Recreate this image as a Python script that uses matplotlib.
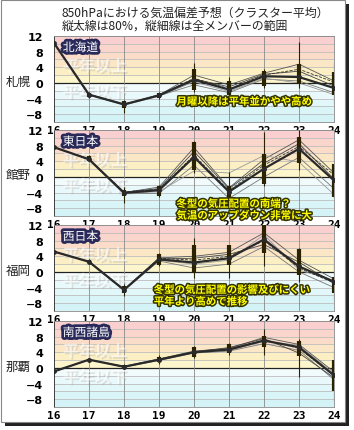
import matplotlib
matplotlib.use("Agg")
import matplotlib.pyplot as plt
import matplotlib.patheffects as pe
from matplotlib.patches import Rectangle
import numpy as np

plt.rcParams['font.family'] = ['Noto Sans CJK JP', 'DejaVu Sans']

days = [16, 17, 18, 19, 20, 21, 22, 23, 24]
nan = np.nan

stations = ["札幌", "館野", "福岡", "那覇"]
regions = ["北海道", "東日本", "西日本", "南西諸島"]

# cluster mean (thick line)
mean_sapporo = [10.2, -3.0, -5.5, -3.2, 0.8, -1.7, 1.7, 1.5, -1.3]
mean_tateno = [7.6, 4.5, -4.1, -3.4, 5.1, -3.8, 2.1, 7.2, -0.9]
mean_fukuoka = [5.2, 2.6, -4.6, 3.2, 2.4, 3.5, 8.3, 1.4, -2.5]
mean_naha = [-0.9, 2.1, 0.3, 2.1, 4.0, 4.7, 7.0, 5.3, -1.9]

# other clusters (thin lines)
members_sapporo = [
    [10.2, -3.0, -5.6, -3.1, 2.0, -0.5, 2.5, 4.8, 0.5],
    [10.2, -2.9, -5.4, -3.3, -0.5, -2.5, 1.0, 0.5, -2.5],
    [10.2, -3.1, -5.5, -3.0, 1.0, -1.0, 2.2, 3.0, -0.8],
    [10.2, -3.0, -5.7, -3.4, 0.3, -2.2, 1.2, 0.0, -3.0],
    [10.2, -3.0, -5.5, -3.2, 1.2, -1.5, 2.0, 3.5, 0.2],
]
members_tateno = [
    [7.6, 4.6, -4.0, -2.6, 7.5, -2.8, 4.5, 9.5, 1.0],
    [7.6, 4.4, -4.3, -4.2, 3.0, -5.5, 0.0, 5.0, -3.0],
    [7.6, 4.5, -3.9, -3.0, 6.5, -3.0, 3.5, 8.5, -0.5],
    [7.6, 4.5, -4.2, -3.8, 1.5, 1.0, 5.5, 3.8, -4.5],
    [7.6, 4.5, -3.8, -3.2, 5.5, -3.5, 3.0, 7.8, 0.5],
]
members_fukuoka = [
    [5.2, 2.6, -4.5, 3.6, 4.0, 5.0, 10.0, 3.0, -1.8],
    [5.2, 2.6, -4.7, 2.8, 1.0, 2.0, 6.5, 0.0, -4.0],
    [5.2, 2.6, -4.6, 3.3, 3.5, 4.5, 7.0, 2.5, -3.0],
    [5.2, 2.6, -4.6, 3.0, 2.0, 3.0, 9.5, 0.5, -2.2],
    [5.2, 2.6, -4.6, 3.5, 3.0, 4.0, 8.0, 1.0, -2.8],
]
members_naha = [
    [-0.9, 2.1, 0.4, 2.3, 4.3, 5.0, 7.8, 6.0, -1.0],
    [-0.9, 2.1, 0.2, 1.9, 3.8, 4.3, 6.2, 4.5, -3.0],
    [-0.9, 2.1, 0.3, 2.2, 4.1, 5.2, 7.5, 3.8, -2.5],
    [-0.9, 2.1, 0.3, 2.0, 3.9, 4.5, 6.8, 5.8, -1.5],
    [-0.9, 2.1, 0.3, 2.1, 4.0, 4.8, 7.2, 5.0, -2.0],
]

# 80% range (thick bar) and full range (thin bar)
p80_lo_sapporo = [nan, -3.5, -6.3, -3.8, -1.7, -3.0, -0.9, -0.4, -3.2]
p80_hi_sapporo = [nan, -2.6, -4.6, -2.6, 3.6, 0.4, 3.0, 4.9, 2.7]
min_sapporo = [nan, -3.8, -7.7, -4.0, -2.4, -3.8, -1.3, -1.3, -5.5]
max_sapporo = [nan, -2.4, -4.3, -2.4, 5.1, 1.5, 3.6, 10.4, 5.1]

p80_lo_tateno = [nan, 4.0, -5.0, -4.9, 1.7, -6.1, -1.9, 3.6, -5.1]
p80_hi_tateno = [nan, 5.3, -3.4, -2.3, 8.9, -2.4, 5.8, 10.2, 3.2]
min_tateno = [nan, 3.8, -6.8, -5.2, 0.9, -6.8, -2.4, 1.7, -5.5]
max_tateno = [nan, 5.5, -2.6, -2.0, 9.2, 1.3, 11.5, 12.0, 7.5]

p80_lo_fukuoka = [nan, 2.2, -5.4, 1.8, -0.3, 1.8, 4.8, -0.8, -5.4]
p80_hi_fukuoka = [nan, 3.0, -3.5, 4.5, 6.9, 6.9, 12.0, 5.8, -1.2]
min_fukuoka = [nan, 2.0, -6.2, 1.5, -1.5, -1.5, 1.4, -2.5, -7.1]
max_fukuoka = [nan, 3.2, -3.2, 4.8, 8.6, 7.0, 13.0, 6.0, 3.9]

p80_lo_naha = [nan, 1.8, 0.0, 1.6, 2.7, 3.7, 5.3, 3.1, -5.9]
p80_hi_naha = [nan, 2.4, 0.7, 2.8, 5.3, 6.1, 8.2, 7.0, 1.9]
min_naha = [nan, 1.6, -0.3, 1.0, 2.5, 3.4, 3.4, -2.2, -8.5]
max_naha = [nan, 2.6, 1.0, 3.2, 5.6, 6.3, 9.9, 7.4, 4.6]

notes = [
    ["月曜以降は平年並かやや高め"],
    ["冬型の気圧配置の南端？", "気温のアップダウン非常に大"],
    ["冬型の気圧配置の影響及びにくい", "平年より高めで推移"],
    [],
]
note_pos = [(19.5, -4.8), (19.5, -6.9), (18.85, -4.6), None]

ytick_vals = [12, 8, 4, 0, -4, -8]
band_edges = [-10, -8, -6, -4, -2, 0, 2, 4, 6, 8, 10, 12]
band_colors = ["#d3f3f7", "#d9f5f8", "#e1f7fa", "#e9f9fb", "#f1fbfb",
               "#fdf6cd", "#fcefc3", "#fbe6c6", "#fbdcc9", "#fad5cc", "#f9d0cf"]

panels = [
    (mean_sapporo, members_sapporo, p80_lo_sapporo, p80_hi_sapporo, min_sapporo, max_sapporo),
    (mean_tateno, members_tateno, p80_lo_tateno, p80_hi_tateno, min_tateno, max_tateno),
    (mean_fukuoka, members_fukuoka, p80_lo_fukuoka, p80_hi_fukuoka, min_fukuoka, max_fukuoka),
    (mean_naha, members_naha, p80_lo_naha, p80_hi_naha, min_naha, max_naha),
]

W, H = 354, 431
fig = plt.figure(figsize=(W / 100, H / 100), dpi=100)

# outer frame with shadow
fig.patches.append(Rectangle((5 / W, 1 - 427 / H), 344 / W, 422 / H, transform=fig.transFigure,
                             facecolor="#222222", edgecolor="none", zorder=-3))
fig.patches.append(Rectangle((1 / W, 1 - 423 / H), 344 / W, 422 / H, transform=fig.transFigure,
                             facecolor="white", edgecolor="#888888", linewidth=0.8, zorder=-2))

fig.text(62 / W, 1 - 13 / H, "850hPaにおける気温偏差予想（クラスター平均）",
         fontsize=8.6, va="center", ha="left", color="#222222")
fig.text(62 / W, 1 - 26 / H, "縦太線は80%，縦細線は全メンバーの範囲",
         fontsize=8.6, va="center", ha="left", color="#222222")

tops = [37, 131, 226, 322]
ph = 86
x0, x1 = 54, 334
member_styles = [("#555555", "-"), ("#777777", "-"), ("#444444", "-"), ("#999999", "-"), ("#333333", "--")]

for i, (mean, members, lo80, hi80, vmin, vmax) in enumerate(panels):
    top = tops[i]
    ax = fig.add_axes([x0 / W, 1 - (top + ph) / H, (x1 - x0) / W, ph / H])
    ax.set_xlim(16, 24)
    ax.set_ylim(-10, 12)
    for k in range(len(band_colors)):
        ax.axhspan(band_edges[k], band_edges[k + 1], color=band_colors[k], lw=0, zorder=0)
    for y in range(-10, 13, 2):
        if y != 0:
            ax.axhline(y, color="#bdbdbd", lw=0.6, zorder=1)
    ax.axhline(0, color="#222222", lw=0.9, zorder=1)
    for d in days:
        ax.axvline(d, color="#8a8a8a", lw=0.6, zorder=1)

    # watermark
    wm_fx = [pe.SimplePatchShadow(offset=(1.2, -1.2), shadow_rgbFace="#a8a8a8", alpha=0.3),
             pe.Normal()]
    ax.text(16.25, 4.2, "平年以上", fontsize=11.5, color="white", alpha=0.6, fontweight="bold",
            va="center", ha="left", zorder=2, path_effects=wm_fx)
    ax.text(16.25, -2.4, "平年以下", fontsize=11.5, color="white", alpha=0.6, fontweight="bold",
            va="center", ha="left", zorder=2, path_effects=wm_fx)

    for m, (c, ls) in zip(members, member_styles):
        ax.plot(days, m, color=c, lw=0.6, ls=ls, zorder=3)
    ax.vlines(days, vmin, vmax, color="#2b2200", lw=0.8, zorder=4)
    ax.vlines(days, lo80, hi80, color="#2b2200", lw=3.0, zorder=4)
    ax.plot(days, mean, color="#2a2a2a", lw=1.6, marker="o", ms=2.5, zorder=5)

    ax.text(16.25, 9.0, regions[i], fontsize=8.5, color="white", va="center", ha="left", zorder=6,
            path_effects=[pe.withStroke(linewidth=4, foreground="#2a2a5a")])

    if note_pos[i] is not None:
        nx, ny = note_pos[i]
        for j, line in enumerate(notes[i]):
            ax.text(nx, ny - j * 3.0, line, fontsize=7.5, color="#ffff00", fontweight="bold",
                    va="center", ha="left", zorder=7, clip_on=False,
                    path_effects=[pe.withStroke(linewidth=2.2, foreground="#333300")])

    ax.set_xticks(days)
    ax.set_xticklabels([str(d) for d in days], fontsize=8, fontweight="bold",
                       family="DejaVu Sans Mono")
    ax.set_yticks(ytick_vals)
    ax.set_yticklabels([str(v).replace("-", "\u2212") for v in ytick_vals], fontsize=8,
                       fontweight="bold", family="DejaVu Sans")
    ax.tick_params(length=0, pad=2)
    ax.tick_params(axis="y", pad=8)
    for s in ax.spines.values():
        s.set_color("#888888")
        s.set_linewidth(0.6)
    ax.spines["left"].set_color("#333333")

    fig.text(6 / W, 1 - (top + 45) / H, stations[i], fontsize=9, va="center", ha="left",
             color="#222222")

fig.savefig("out.png", dpi=100)
